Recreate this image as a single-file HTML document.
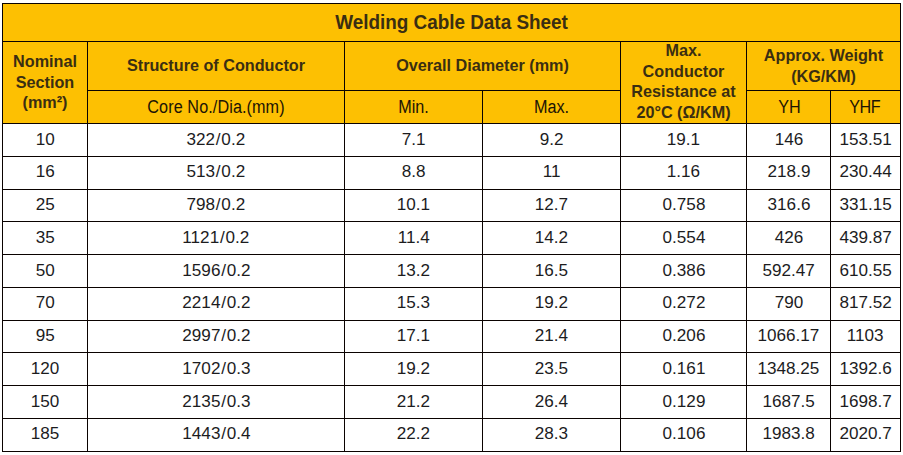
<!DOCTYPE html>
<html><head><meta charset="utf-8"><title>Welding Cable Data Sheet</title>
<style>
html,body{margin:0;padding:0;background:#fff;}
body{width:903px;height:455px;overflow:hidden;position:relative;font-family:"Liberation Sans",sans-serif;}
#t{position:absolute;left:0;top:0;width:903px;height:455px;}
.bg{position:absolute;left:2px;top:3px;width:899px;height:121px;background:#fdc002;}
.l{position:absolute;background:#0a0200;}
.c{position:absolute;display:flex;align-items:center;justify-content:center;text-align:center;color:#3a2e12;white-space:nowrap;}
.c span{display:block;}
.title{font-weight:bold;font-size:18.9px;}
.title span{transform:translateY(var(--dy,-0.4px)) scaleY(1.04);}
.hb{font-weight:bold;font-size:16.2px;line-height:19.5px;}
.hb span{transform:translateY(var(--dy,-0.8px)) scaleY(1.05);}
.hr{font-size:16.2px;color:#1c1405;}
.hr span{transform:translateY(var(--dy,-0.7px)) scaleY(1.09);}
.d{font-size:16.8px;color:#1c1c1e;}
.d span{transform:translateY(var(--dy,0px)) scaleX(1.02);}
.d2 i{font-style:normal;padding:0 0.8px;}
.d2 span{transform:translateY(var(--dy,0px)) scaleX(1.02);}
</style></head><body><div id="t">
<div class="bg"></div>
<div class="l" style="left:2px;top:3px;width:899px;height:1px"></div>
<div class="l" style="left:2px;top:41px;width:899px;height:1px"></div>
<div class="l" style="left:87px;top:90px;width:534px;height:1px"></div>
<div class="l" style="left:746px;top:90px;width:155px;height:1px"></div>
<div class="l" style="left:2px;top:123px;width:899px;height:1px"></div>
<div class="l" style="left:2px;top:156px;width:899px;height:1px"></div>
<div class="l" style="left:2px;top:189px;width:899px;height:1px"></div>
<div class="l" style="left:2px;top:221px;width:899px;height:1px"></div>
<div class="l" style="left:2px;top:254px;width:899px;height:1px"></div>
<div class="l" style="left:2px;top:287px;width:899px;height:1px"></div>
<div class="l" style="left:2px;top:320px;width:899px;height:1px"></div>
<div class="l" style="left:2px;top:352px;width:899px;height:1px"></div>
<div class="l" style="left:2px;top:385px;width:899px;height:1px"></div>
<div class="l" style="left:2px;top:418px;width:899px;height:1px"></div>
<div class="l" style="left:2px;top:451px;width:899px;height:1px"></div>
<div class="l" style="left:2px;top:3px;width:1px;height:449px"></div>
<div class="l" style="left:900px;top:3px;width:1px;height:449px"></div>
<div class="l" style="left:87px;top:41px;width:1px;height:411px"></div>
<div class="l" style="left:344px;top:41px;width:1px;height:411px"></div>
<div class="l" style="left:620px;top:41px;width:1px;height:411px"></div>
<div class="l" style="left:746px;top:41px;width:1px;height:411px"></div>
<div class="l" style="left:482px;top:90px;width:1px;height:362px"></div>
<div class="l" style="left:830px;top:90px;width:1px;height:362px"></div>
<div class="c title" style="left:3px;top:4px;width:897px;height:37px;"><span>Welding Cable Data Sheet</span></div>
<div class="c hb" style="left:3px;top:42px;width:84px;height:81px;--dy:0.1px;"><span>Nominal<br>Section<br>(mm²)</span></div>
<div class="c hb" style="left:88px;top:42px;width:256px;height:48px;--dy:-0.2px;"><span>Structure of Conductor</span></div>
<div class="c hr" style="left:88px;top:91px;width:256px;height:32px;letter-spacing:0.09px;"><span>Core No./Dia.(mm)</span></div>
<div class="c hb" style="left:345px;top:42px;width:275px;height:48px;--dy:-0.2px;"><span>Overall Diameter (mm)</span></div>
<div class="c hr" style="left:345px;top:91px;width:137px;height:32px;"><span>Min.</span></div>
<div class="c hr" style="left:483px;top:91px;width:137px;height:32px;"><span>Max.</span></div>
<div class="c hb" style="left:621px;top:42px;width:125px;height:81px;--dy:-1.5px;"><span>Max.<br>Conductor<br>Resistance at<br>20°C (Ω/KM)</span></div>
<div class="c hb" style="left:747px;top:42px;width:153px;height:48px;"><span>Approx. Weight<br>(KG/KM)</span></div>
<div class="c hr" style="left:747px;top:91px;width:83px;height:32px;padding-left:2px;box-sizing:border-box;"><span>YH</span></div>
<div class="c hr" style="left:831px;top:91px;width:69px;height:32px;letter-spacing:-0.5px;padding-right:1.5px;box-sizing:border-box;"><span>YHF</span></div>
<div class="c d" style="left:3px;top:124px;width:84px;height:32px;--dy:0px;"><span>10</span></div>
<div class="c d d2" style="left:88px;top:124px;width:256px;height:32px;--dy:0px;"><span>322<i>/</i>0.2</span></div>
<div class="c d" style="left:345px;top:124px;width:137px;height:32px;--dy:0px;"><span>7.1</span></div>
<div class="c d" style="left:483px;top:124px;width:137px;height:32px;--dy:0px;"><span>9.2</span></div>
<div class="c d" style="left:621px;top:124px;width:125px;height:32px;--dy:0px;"><span>19.1</span></div>
<div class="c d" style="left:747px;top:124px;width:83px;height:32px;--dy:0px;"><span>146</span></div>
<div class="c d" style="left:831px;top:124px;width:69px;height:32px;--dy:0px;"><span>153.51</span></div>
<div class="c d" style="left:3px;top:157px;width:84px;height:32px;--dy:-1px;"><span>16</span></div>
<div class="c d d2" style="left:88px;top:157px;width:256px;height:32px;--dy:-1px;"><span>513<i>/</i>0.2</span></div>
<div class="c d" style="left:345px;top:157px;width:137px;height:32px;--dy:-1px;"><span>8.8</span></div>
<div class="c d" style="left:483px;top:157px;width:137px;height:32px;--dy:-1px;"><span>11</span></div>
<div class="c d" style="left:621px;top:157px;width:125px;height:32px;--dy:-1px;"><span>1.16</span></div>
<div class="c d" style="left:747px;top:157px;width:83px;height:32px;--dy:-1px;"><span>218.9</span></div>
<div class="c d" style="left:831px;top:157px;width:69px;height:32px;--dy:-1px;"><span>230.44</span></div>
<div class="c d" style="left:3px;top:190px;width:84px;height:31px;--dy:-1px;"><span>25</span></div>
<div class="c d d2" style="left:88px;top:190px;width:256px;height:31px;--dy:-1px;"><span>798<i>/</i>0.2</span></div>
<div class="c d" style="left:345px;top:190px;width:137px;height:31px;--dy:-1px;"><span>10.1</span></div>
<div class="c d" style="left:483px;top:190px;width:137px;height:31px;--dy:-1px;"><span>12.7</span></div>
<div class="c d" style="left:621px;top:190px;width:125px;height:31px;--dy:-1px;"><span>0.758</span></div>
<div class="c d" style="left:747px;top:190px;width:83px;height:31px;--dy:-1px;"><span>316.6</span></div>
<div class="c d" style="left:831px;top:190px;width:69px;height:31px;--dy:-1px;"><span>331.15</span></div>
<div class="c d" style="left:3px;top:222px;width:84px;height:32px;--dy:0px;"><span>35</span></div>
<div class="c d d2" style="left:88px;top:222px;width:256px;height:32px;--dy:0px;"><span>1121<i>/</i>0.2</span></div>
<div class="c d" style="left:345px;top:222px;width:137px;height:32px;--dy:0px;"><span>11.4</span></div>
<div class="c d" style="left:483px;top:222px;width:137px;height:32px;--dy:0px;"><span>14.2</span></div>
<div class="c d" style="left:621px;top:222px;width:125px;height:32px;--dy:0px;"><span>0.554</span></div>
<div class="c d" style="left:747px;top:222px;width:83px;height:32px;--dy:0px;"><span>426</span></div>
<div class="c d" style="left:831px;top:222px;width:69px;height:32px;--dy:0px;"><span>439.87</span></div>
<div class="c d" style="left:3px;top:255px;width:84px;height:32px;--dy:0px;"><span>50</span></div>
<div class="c d d2" style="left:88px;top:255px;width:256px;height:32px;--dy:0px;"><span>1596<i>/</i>0.2</span></div>
<div class="c d" style="left:345px;top:255px;width:137px;height:32px;--dy:0px;"><span>13.2</span></div>
<div class="c d" style="left:483px;top:255px;width:137px;height:32px;--dy:0px;"><span>16.5</span></div>
<div class="c d" style="left:621px;top:255px;width:125px;height:32px;--dy:0px;"><span>0.386</span></div>
<div class="c d" style="left:747px;top:255px;width:83px;height:32px;--dy:0px;"><span>592.47</span></div>
<div class="c d" style="left:831px;top:255px;width:69px;height:32px;--dy:0px;"><span>610.55</span></div>
<div class="c d" style="left:3px;top:288px;width:84px;height:32px;--dy:-1px;"><span>70</span></div>
<div class="c d d2" style="left:88px;top:288px;width:256px;height:32px;--dy:-1px;"><span>2214<i>/</i>0.2</span></div>
<div class="c d" style="left:345px;top:288px;width:137px;height:32px;--dy:-1px;"><span>15.3</span></div>
<div class="c d" style="left:483px;top:288px;width:137px;height:32px;--dy:-1px;"><span>19.2</span></div>
<div class="c d" style="left:621px;top:288px;width:125px;height:32px;--dy:-1px;"><span>0.272</span></div>
<div class="c d" style="left:747px;top:288px;width:83px;height:32px;--dy:-1px;"><span>790</span></div>
<div class="c d" style="left:831px;top:288px;width:69px;height:32px;--dy:-1px;"><span>817.52</span></div>
<div class="c d" style="left:3px;top:321px;width:84px;height:31px;--dy:-1px;"><span>95</span></div>
<div class="c d d2" style="left:88px;top:321px;width:256px;height:31px;--dy:-1px;"><span>2997<i>/</i>0.2</span></div>
<div class="c d" style="left:345px;top:321px;width:137px;height:31px;--dy:-1px;"><span>17.1</span></div>
<div class="c d" style="left:483px;top:321px;width:137px;height:31px;--dy:-1px;"><span>21.4</span></div>
<div class="c d" style="left:621px;top:321px;width:125px;height:31px;--dy:-1px;"><span>0.206</span></div>
<div class="c d" style="left:747px;top:321px;width:83px;height:31px;--dy:-1px;"><span>1066.17</span></div>
<div class="c d" style="left:831px;top:321px;width:69px;height:31px;--dy:-1px;"><span>1103</span></div>
<div class="c d" style="left:3px;top:353px;width:84px;height:32px;--dy:0px;"><span>120</span></div>
<div class="c d d2" style="left:88px;top:353px;width:256px;height:32px;--dy:0px;"><span>1702<i>/</i>0.3</span></div>
<div class="c d" style="left:345px;top:353px;width:137px;height:32px;--dy:0px;"><span>19.2</span></div>
<div class="c d" style="left:483px;top:353px;width:137px;height:32px;--dy:0px;"><span>23.5</span></div>
<div class="c d" style="left:621px;top:353px;width:125px;height:32px;--dy:0px;"><span>0.161</span></div>
<div class="c d" style="left:747px;top:353px;width:83px;height:32px;--dy:0px;"><span>1348.25</span></div>
<div class="c d" style="left:831px;top:353px;width:69px;height:32px;--dy:0px;"><span>1392.6</span></div>
<div class="c d" style="left:3px;top:386px;width:84px;height:32px;--dy:0px;"><span>150</span></div>
<div class="c d d2" style="left:88px;top:386px;width:256px;height:32px;--dy:0px;"><span>2135<i>/</i>0.3</span></div>
<div class="c d" style="left:345px;top:386px;width:137px;height:32px;--dy:0px;"><span>21.2</span></div>
<div class="c d" style="left:483px;top:386px;width:137px;height:32px;--dy:0px;"><span>26.4</span></div>
<div class="c d" style="left:621px;top:386px;width:125px;height:32px;--dy:0px;"><span>0.129</span></div>
<div class="c d" style="left:747px;top:386px;width:83px;height:32px;--dy:0px;"><span>1687.5</span></div>
<div class="c d" style="left:831px;top:386px;width:69px;height:32px;--dy:0px;"><span>1698.7</span></div>
<div class="c d" style="left:3px;top:419px;width:84px;height:32px;--dy:-1px;"><span>185</span></div>
<div class="c d d2" style="left:88px;top:419px;width:256px;height:32px;--dy:-1px;"><span>1443<i>/</i>0.4</span></div>
<div class="c d" style="left:345px;top:419px;width:137px;height:32px;--dy:-1px;"><span>22.2</span></div>
<div class="c d" style="left:483px;top:419px;width:137px;height:32px;--dy:-1px;"><span>28.3</span></div>
<div class="c d" style="left:621px;top:419px;width:125px;height:32px;--dy:-1px;"><span>0.106</span></div>
<div class="c d" style="left:747px;top:419px;width:83px;height:32px;--dy:-1px;"><span>1983.8</span></div>
<div class="c d" style="left:831px;top:419px;width:69px;height:32px;--dy:-1px;"><span>2020.7</span></div>
</div></body></html>
